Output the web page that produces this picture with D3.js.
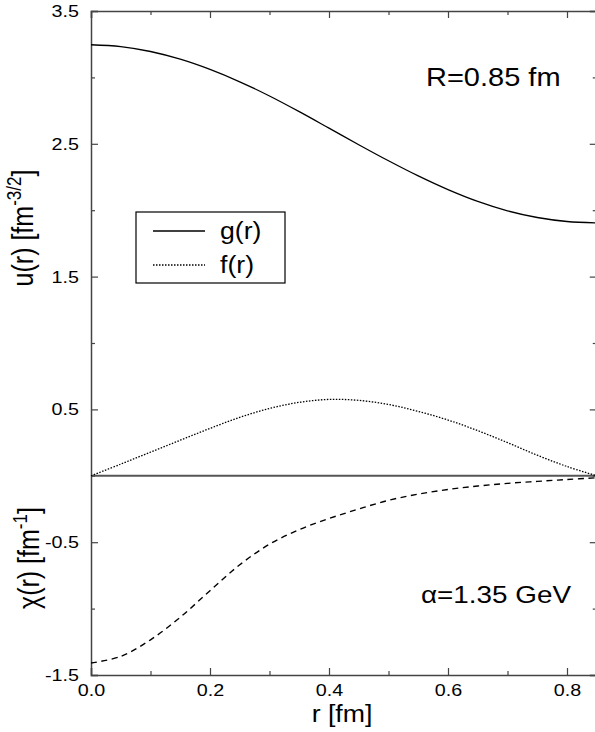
<!DOCTYPE html>
<html>
<head>
<meta charset="utf-8">
<script src="https://cdn.jsdelivr.net/npm/d3@7"></script>
<style>
body { margin: 0; background: #fff; }
text { font-family: "Liberation Sans", Arial, sans-serif; fill: #000; }
</style>
</head>
<body>
<svg id="chart" width="595" height="732"></svg>
<script>
// values
var r_values   = [0, 0.05, 0.1, 0.15, 0.2, 0.25, 0.3, 0.35, 0.4, 0.45, 0.5, 0.55, 0.6, 0.65, 0.7, 0.75, 0.8, 0.85];
var g_values   = [3.246, 3.232, 3.195, 3.137, 3.06, 2.967, 2.86, 2.742, 2.618, 2.493, 2.372, 2.258, 2.155, 2.066, 1.995, 1.945, 1.915, 1.905];
var f_values   = [0, 0.088, 0.178, 0.268, 0.357, 0.44, 0.507, 0.553, 0.575, 0.568, 0.537, 0.485, 0.42, 0.34, 0.25, 0.155, 0.07, 0];
var chi_values = [-1.41, -1.36, -1.235, -1.065, -0.865, -0.67, -0.515, -0.405, -0.322, -0.25, -0.185, -0.138, -0.103, -0.077, -0.057, -0.042, -0.028, -0.015];

var x_major  = [0, 0.2, 0.4, 0.6, 0.8];
var x_labels = ['0.0', '0.2', '0.4', '0.6', '0.8'];
var x_minor  = [0.1, 0.3, 0.5, 0.7];
var y_major  = [3.5, 2.5, 1.5, 0.5, -0.5, -1.5];
var y_labels = ['3.5', '2.5', '1.5', '0.5', '-0.5', '-1.5'];
var y_minor  = [3, 2, 1, 0, -1];

var legend_labels = ['g(r)', 'f(r)'];

var svg = d3.select('#chart');
svg.append('rect').attr('width', 595).attr('height', 732).attr('fill', '#fff');

var x = d3.scaleLinear().domain([0, 0.85]).range([91, 91 + 0.85 * 595]);
var y = d3.scaleLinear().domain([-1.5, 3.5]).range([675, 11]);

var stretch = 1.16;
var axis_color = '#444';

function style_axis(g) {
	g.select('.domain').attr('stroke', axis_color).attr('stroke-width', 1.5);
	g.selectAll('.tick line').attr('stroke', axis_color).attr('stroke-width', 1.2);
}

function minor_only(g) {
	g.select('.domain').remove();
	g.selectAll('.tick line').attr('stroke', axis_color).attr('stroke-width', 1.2);
}

// bottom axis
svg.append('g')
	.attr('transform', 'translate(0,675)')
	.call(d3.axisBottom(x).tickValues(x_major).tickSize(-7).tickPadding(9)
		.tickFormat(function(d, i) { return x_labels[i]; }))
	.call(style_axis)
	.selectAll('text')
		.attr('font-size', 17)
		.attr('transform', 'scale(' + stretch + ',1)');

svg.append('g')
	.attr('transform', 'translate(0,675)')
	.call(d3.axisBottom(x).tickValues(x_minor).tickSize(-4).tickFormat(''))
	.call(minor_only);

// top axis
svg.append('g')
	.attr('transform', 'translate(0,11)')
	.call(d3.axisTop(x).tickValues(x_major).tickSize(-7).tickFormat(''))
	.call(style_axis);

svg.append('g')
	.attr('transform', 'translate(0,11)')
	.call(d3.axisTop(x).tickValues(x_minor).tickSize(-4).tickFormat(''))
	.call(minor_only);

// left axis
svg.append('g')
	.attr('transform', 'translate(91,0)')
	.call(d3.axisLeft(y).tickValues(y_major).tickSize(-7)
		.tickFormat(function(d, i) { return y_labels[i]; }))
	.call(style_axis)
	.selectAll('text')
		.attr('font-size', 17)
		.attr('x', 0)
		.attr('transform', 'translate(-12,0) scale(' + stretch + ',1)');

svg.append('g')
	.attr('transform', 'translate(91,0)')
	.call(d3.axisLeft(y).tickValues(y_minor).tickSize(-4).tickFormat(''))
	.call(minor_only);

// right axis
svg.append('g')
	.attr('transform', 'translate(' + x(0.85) + ',0)')
	.call(d3.axisRight(y).tickValues(y_major).tickSize(-7).tickFormat(''))
	.call(style_axis);

svg.append('g')
	.attr('transform', 'translate(' + x(0.85) + ',0)')
	.call(d3.axisRight(y).tickValues(y_minor).tickSize(-4).tickFormat(''))
	.call(minor_only);

// zero line
svg.append('line')
	.attr('x1', x(0)).attr('x2', x(0.85))
	.attr('y1', y(0)).attr('y2', y(0))
	.attr('stroke', '#555')
	.attr('stroke-width', 2);

// curves
var line = d3.line()
	.x(function(d, i) { return x(r_values[i]); })
	.y(function(d) { return y(d); })
	.curve(d3.curveCatmullRom.alpha(0.5));

svg.append('path').attr('d', line(g_values))
	.attr('fill', 'none').attr('stroke', '#000').attr('stroke-width', 1.3);

svg.append('path').attr('d', line(f_values))
	.attr('fill', 'none').attr('stroke', '#000').attr('stroke-width', 1.3)
	.attr('stroke-dasharray', '1.5,1.5');

svg.append('path').attr('d', line(chi_values))
	.attr('fill', 'none').attr('stroke', '#000').attr('stroke-width', 1.4)
	.attr('stroke-dasharray', '6,4.5');

// plain text helper, stretched horizontally like the original
function label(px, py, txt, size, anchor) {
	return svg.append('text')
		.attr('transform', 'translate(' + px + ',' + py + ') scale(' + stretch + ',1)')
		.attr('font-size', size)
		.attr('text-anchor', anchor || 'start')
		.text(txt);
}

label(426, 86, 'R=0.85 fm', 25);
label(421, 603, '\u03b1=1.35 GeV', 24);
label(342, 722, 'r [fm]', 23, 'middle');

// y titles, rotated
function y_title(px, py, main, sup) {
	var t = svg.append('text')
		.attr('transform', 'translate(' + px + ',' + py + ') rotate(-90) scale(1,' + stretch + ')')
		.attr('font-size', 25)
		.attr('text-anchor', 'middle');
	t.append('tspan').text(main);
	t.append('tspan').attr('font-size', 17).attr('dy', -10).text(sup);
	t.append('tspan').attr('dy', 10).text(']');
}

y_title(33, 228, 'u(r) [fm', '-3/2');
y_title(39, 558, '\u03c7(r) [fm', '-1');

// legend
var legend = svg.append('g');
legend.append('rect')
	.attr('x', 136).attr('y', 212).attr('width', 149).attr('height', 71)
	.attr('fill', '#fff').attr('stroke', '#000').attr('stroke-width', 1.2);

var legend_dash = ['none', '1.5,1.5'];
legend_labels.forEach(function(name, i) {
	var ly = 231 + i * 34;
	legend.append('line')
		.attr('x1', 153).attr('x2', 205)
		.attr('y1', ly).attr('y2', ly)
		.attr('stroke', '#000').attr('stroke-width', 1.3)
		.attr('stroke-dasharray', legend_dash[i]);
	legend.append('text')
		.attr('transform', 'translate(220,' + (ly + 8) + ') scale(' + stretch + ',1)')
		.attr('font-size', 23)
		.text(name);
});
</script>
</body>
</html>
